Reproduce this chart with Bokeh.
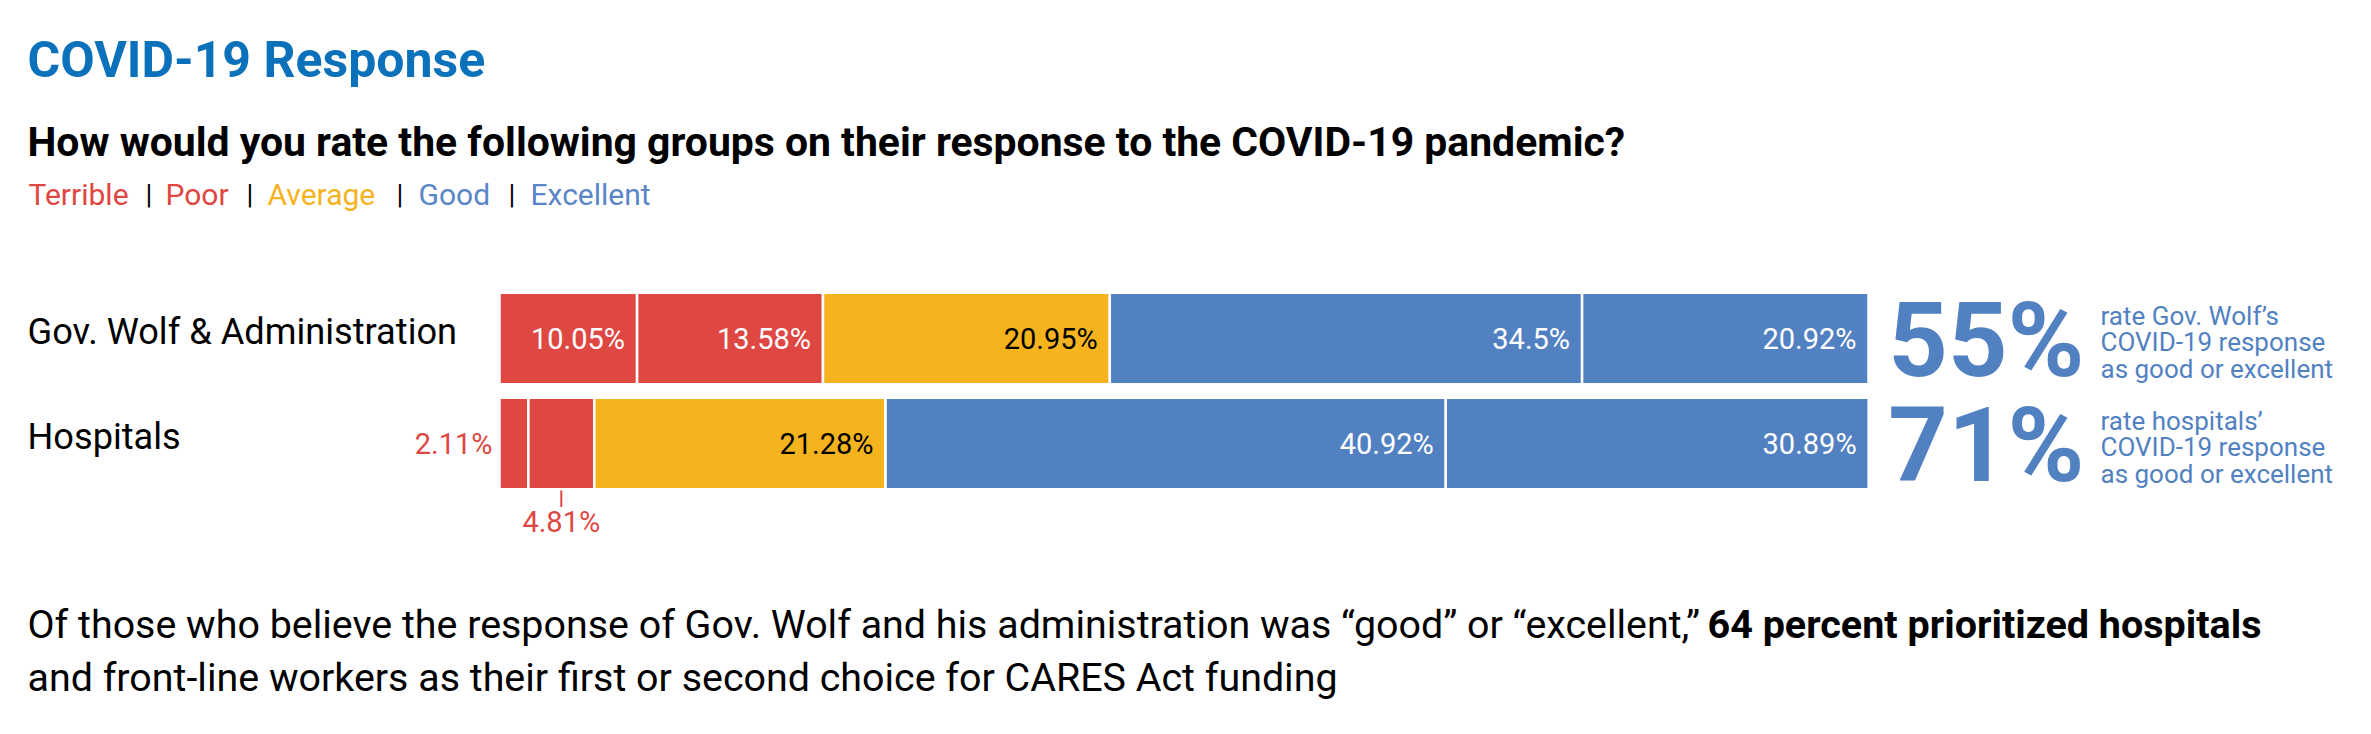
from bokeh.plotting import figure
from bokeh.models import Range1d, Label, ColumnDataSource
from bokeh.core.properties import value
from bokeh.embed import file_html
from bokeh.resources import INLINE

# ---------------- data ----------------
categories = ["Gov. Wolf & Administration", "Hospitals"]
ratings = ["Terrible", "Poor", "Average", "Good", "Excellent"]
gov_values = [10.05, 13.58, 20.95, 34.5, 20.92]
hosp_values = [2.11, 4.81, 21.28, 40.92, 30.89]
rating_colors = ["#DF4742", "#DF4742", "#F5B31E", "#5281C2", "#5281C2"]
legend_colors = ["#DF4742", "#DF4742", "#F5B31E", "#5A86C8", "#5A86C8"]
label_colors = ["white", "white", "black", "white", "white"]
hosp_label_modes = ["left", "below", "in", "in", "in"]
gov_label_modes = ["in", "in", "in", "in", "in"]
summary_values = ["55%", "71%"]
summary_lines = [
    ["rate Gov. Wolf\u2019s", "COVID-19 response", "as good or excellent"],
    ["rate hospitals\u2019", "COVID-19 response", "as good or excellent"],
]
title_text = "COVID-19 Response"
subtitle_text = "How would you rate the following groups on their response to the COVID-19 pandemic?"
footer_line1 = "Of those who believe the response of Gov. Wolf and his administration was \u201cgood\u201d or \u201cexcellent,\u201d"
footer_bold = "64 percent prioritized hospitals"
footer_line2 = "and front-line workers as their first or second choice for CARES Act funding"

FONT = "Roboto"
W, H = 2355, 718
PX_PER_PCT = 13.69
X0 = 499  # canvas px of 0%
ROW_Y0 = 338
ROW_STEP = 105
BAR_H = 0.87
LEFT_X = 27

xs = -X0 / PX_PER_PCT
xe = xs + W / PX_PER_PCT
y_top = -ROW_Y0 / ROW_STEP
y_bot = (H - ROW_Y0) / ROW_STEP

p = figure(width=W, height=H, output_backend="svg", toolbar_location=None,
           x_range=Range1d(xs, xe), y_range=Range1d(y_bot, y_top),
           x_axis_location=None, y_axis_location=None, min_border=0)
p.outline_line_color = None
p.xgrid.visible = False
p.ygrid.visible = False
p.background_fill_color = "white"
p.border_fill_color = "white"

# ---------------- bars ----------------
all_values = [gov_values, hosp_values]
all_modes = [gov_label_modes, hosp_label_modes]
left, right, ys, cols = [], [], [], []
in_x, in_y, in_t, in_c = [], [], [], []
for r, vals in enumerate(all_values):
    acc = 0.0
    for i, v in enumerate(vals):
        left.append(acc)
        right.append(acc + v)
        ys.append(r)
        cols.append(rating_colors[i])
        mode = all_modes[r][i]
        txt = f"{v:g}%"
        if mode == "in":
            in_x.append(acc + v); in_y.append(r); in_t.append(txt); in_c.append(label_colors[i])
        elif mode == "left":
            p.text(x=[acc], y=[r], text=[txt], text_align="right", text_baseline="middle",
                   x_offset=-7, text_font=value(FONT), text_font_size="29px",
                   text_color=rating_colors[i])
        elif mode == "below":
            cx = acc + v / 2
            p.segment(x0=[cx], y0=[r + BAR_H / 2], x1=[cx], y1=[r + BAR_H / 2 + 0.17],
                      line_color=rating_colors[i], line_width=2)
            p.text(x=[cx], y=[r], text=[txt], text_align="center", text_baseline="middle",
                   y_offset=78, text_font=value(FONT), text_font_size="29px",
                   text_color=rating_colors[i])
        acc += v

src = ColumnDataSource(dict(left=left, right=right, y=ys, color=cols))
p.hbar(y="y", left="left", right="right", height=BAR_H, fill_color="color",
       line_color="white", line_width=2.5, source=src)

p.text(x=in_x, y=in_y, text=in_t, text_color=in_c, text_align="right",
       text_baseline="middle", x_offset=-12, text_font=value(FONT), text_font_size="29px")

# category labels
p.text(x=[0] * len(categories), y=list(range(len(categories))), text=categories,
       text_align="left", text_baseline="middle", x_offset=-(X0 - LEFT_X), y_offset=-7,
       text_font=value(FONT), text_font_size="36.2px", text_color="black")

# summaries
p.text(x=[100] * 2, y=[0, 1], text=summary_values, text_align="right", text_baseline="middle",
       x_offset=216, y_offset=2, text_font=value(FONT), text_font_size="104px",
       text_font_style="bold", text_color="#5281C2")
for r, lines in enumerate(summary_lines):
    for j, ln in enumerate(lines):
        p.text(x=[100], y=[r], text=[ln], text_align="left", text_baseline="middle",
               x_offset=232, y_offset=-26 + 26.5 * j + 3, text_font=value(FONT),
               text_font_size="26px", text_color="#5281C2")

# ---------------- header ----------------
def lab(x, y, t, size, color="black", style="normal"):
    p.add_layout(Label(x=x, y=y, x_units="screen", y_units="screen", text=t,
                       text_font=FONT, text_font_size=size, text_color=color,
                       text_font_style=style, text_baseline="alphabetic"))

lab(LEFT_X, H - 59, title_text, "50px", "#0B71BA", "bold")
lab(LEFT_X, H - 141, subtitle_text, "40.9px", "black", "bold")

legend_x = [28, 145, 165, 246, 267, 396, 418, 508, 530]
legend_items = []
for i, rt in enumerate(ratings):
    legend_items.append((rt, legend_colors[i]))
    if i < len(ratings) - 1:
        legend_items.append(("|", "black"))
for (t, c), lx in zip(legend_items, legend_x):
    lab(lx, H - 194, t, "30px" if t != "|" else "28px", c)

# ---------------- footer ----------------
lab(LEFT_X, H - 624, footer_line1, "39.4px")
lab(1707, H - 624, footer_bold, "39.5px", "black", "bold")
lab(LEFT_X, H - 677, footer_line2, "39.4px")

open("out.html", "w").write(file_html(p, INLINE))
